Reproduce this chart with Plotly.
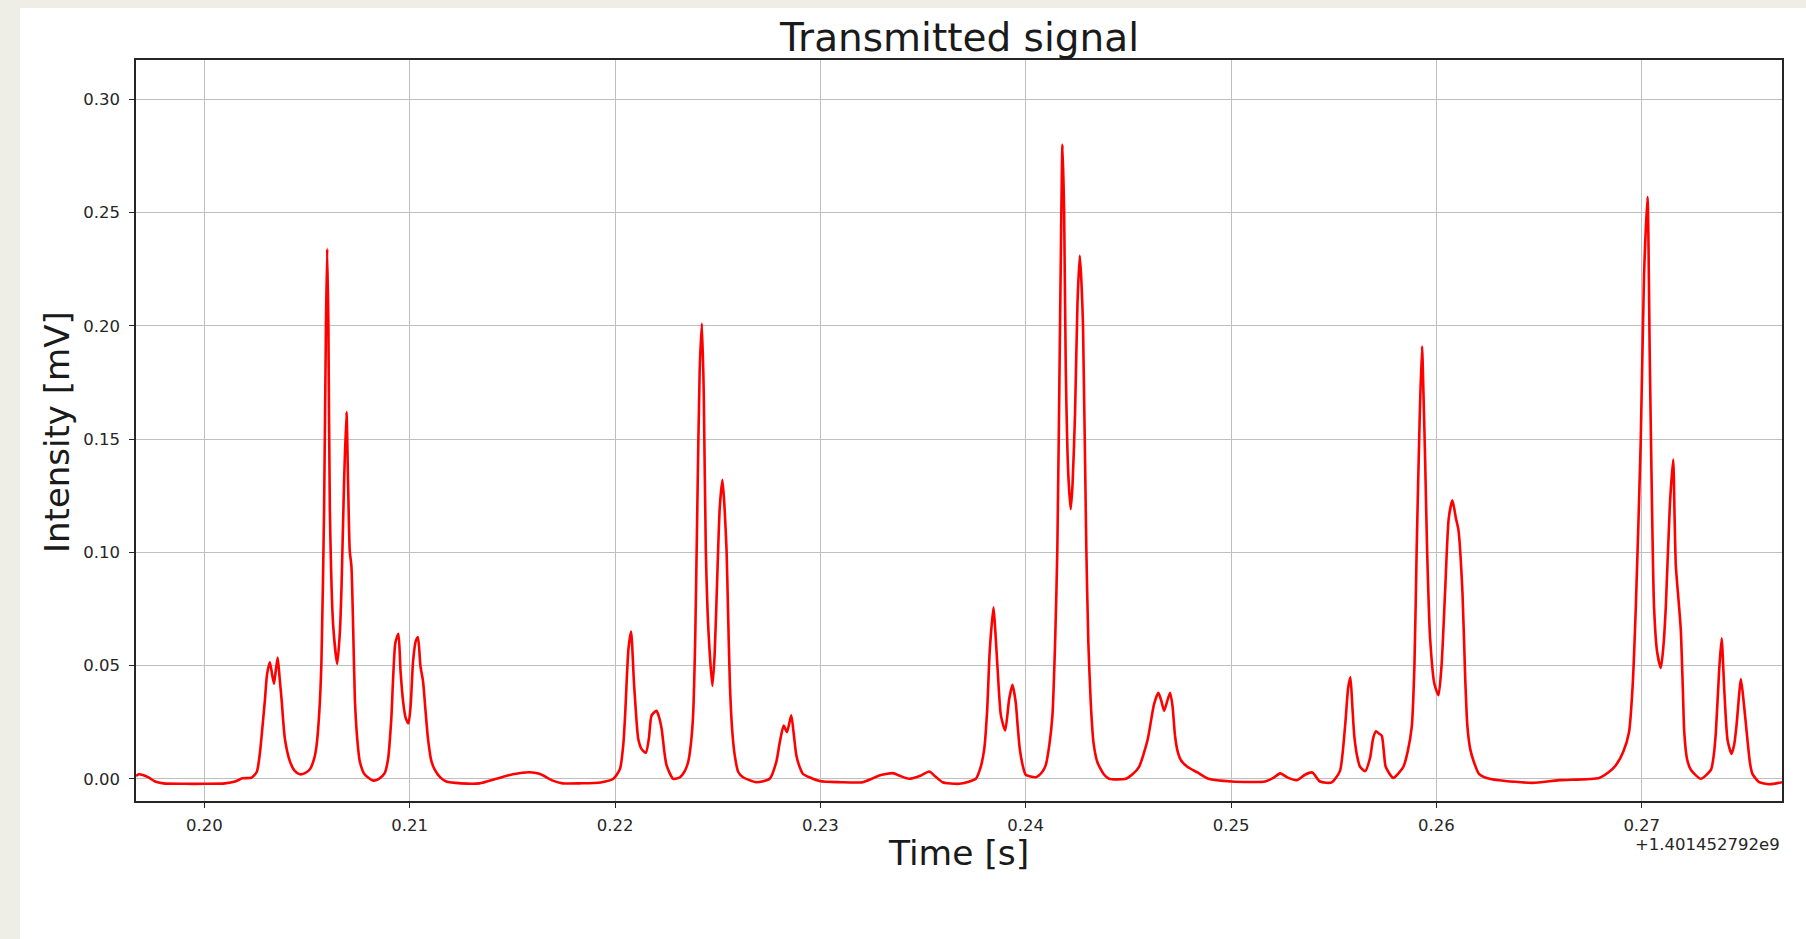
import plotly.graph_objects as go

# ---- data (time relative to offset 1.401452792e9 s, intensity in mV) ----
time_rel = [
    0.19667, 0.19680, 0.19700, 0.19730, 0.19760, 0.19800, 0.19900, 0.20000, 0.20100, 0.20150,
    0.20185, 0.20230, 0.20255, 0.20270, 0.20285, 0.20295, 0.20305, 0.20319, 0.20330, 0.20339,
    0.20348, 0.20357, 0.20366, 0.20376, 0.20392, 0.20417, 0.20440, 0.20465, 0.20490, 0.20514,
    0.20535, 0.20546, 0.20560, 0.20570, 0.20583, 0.20592, 0.20598, 0.20604, 0.20611, 0.20627,
    0.20647, 0.20660, 0.20668, 0.20680, 0.20692, 0.20700, 0.20708, 0.20716, 0.20725, 0.20733,
    0.20745, 0.20757, 0.20780, 0.20822, 0.20850, 0.20878, 0.20895, 0.20910, 0.20930, 0.20945,
    0.20955, 0.20968, 0.20980, 0.20994, 0.21005, 0.21016, 0.21030, 0.21040, 0.21052, 0.21065,
    0.21077, 0.21089, 0.21105, 0.21121, 0.21150, 0.21178, 0.21250, 0.21340, 0.21421, 0.21502,
    0.21583, 0.21632, 0.21697, 0.21745, 0.21830, 0.21930, 0.21992, 0.22024, 0.22040, 0.22049,
    0.22065, 0.22078, 0.22092, 0.22105, 0.22113, 0.22130, 0.22150, 0.22165, 0.22178, 0.22202,
    0.22215, 0.22227, 0.22240, 0.22251, 0.22283, 0.22316, 0.22340, 0.22356, 0.22370, 0.22380,
    0.22390, 0.22400, 0.22412, 0.22423, 0.22432, 0.22442, 0.22455, 0.22474, 0.22485, 0.22497,
    0.22510, 0.22523, 0.22533, 0.22543, 0.22550, 0.22559, 0.22570, 0.22583, 0.22600, 0.22623,
    0.22688, 0.22753, 0.22785, 0.22802, 0.22821, 0.22837, 0.22858, 0.22870, 0.22883, 0.22900,
    0.22915, 0.22996, 0.23100, 0.23206, 0.23250, 0.23287, 0.23352, 0.23390, 0.23433, 0.23490,
    0.23530, 0.23560, 0.23595, 0.23676, 0.23757, 0.23780, 0.23798, 0.23812, 0.23825, 0.23843,
    0.23852, 0.23862, 0.23879, 0.23900, 0.23919, 0.23935, 0.23951, 0.23961, 0.23971, 0.23985,
    0.24000, 0.24049, 0.24080, 0.24097, 0.24115, 0.24130, 0.24143, 0.24154, 0.24167, 0.24179,
    0.24187, 0.24195, 0.24207, 0.24219, 0.24228, 0.24240, 0.24252, 0.24263, 0.24271, 0.24279,
    0.24295, 0.24305, 0.24317, 0.24330, 0.24349, 0.24380, 0.24406, 0.24487, 0.24520, 0.24552,
    0.24593, 0.24625, 0.24646, 0.24660, 0.24674, 0.24688, 0.24703, 0.24715, 0.24727, 0.24740,
    0.24755, 0.24787, 0.24836, 0.24890, 0.25003, 0.25166, 0.25206, 0.25239, 0.25279, 0.25320,
    0.25360, 0.25396, 0.25433, 0.25490, 0.25530, 0.25555, 0.25570, 0.25581, 0.25590, 0.25600,
    0.25614, 0.25628, 0.25653, 0.25677, 0.25692, 0.25706, 0.25720, 0.25734, 0.25745, 0.25753,
    0.25790, 0.25839, 0.25860, 0.25880, 0.25893, 0.25904, 0.25919, 0.25930, 0.25937, 0.25945,
    0.25955, 0.25969, 0.25990, 0.26010, 0.26025, 0.26042, 0.26060, 0.26078, 0.26095, 0.26107,
    0.26127, 0.26140, 0.26151, 0.26165, 0.26183, 0.26207, 0.26240, 0.26304, 0.26467, 0.26597,
    0.26792, 0.26840, 0.26873, 0.26910, 0.26938, 0.26955, 0.26971, 0.26995, 0.27011, 0.27028,
    0.27039, 0.27050, 0.27060, 0.27075, 0.27093, 0.27105, 0.27117, 0.27137, 0.27153, 0.27160,
    0.27166, 0.27179, 0.27190, 0.27200, 0.27207, 0.27220, 0.27239, 0.27288, 0.27337, 0.27350,
    0.27361, 0.27377, 0.27389, 0.27402, 0.27418, 0.27437, 0.27450, 0.27462, 0.27483, 0.27499,
    0.27515, 0.27527, 0.27539, 0.27572, 0.27621, 0.27683,
]

intensity = [
    0.0012, 0.0020, 0.0017, 0.0005, -0.0012, -0.0020, -0.0022, -0.0022, -0.0020, -0.0012,
    0.0002, 0.0005, 0.0030, 0.0110, 0.0250, 0.0350, 0.0460, 0.0515, 0.0460, 0.0420,
    0.0480, 0.0535, 0.0450, 0.0350, 0.0177, 0.0076, 0.0035, 0.0020, 0.0025, 0.0042,
    0.0090, 0.0144, 0.0300, 0.0515, 0.1190, 0.2000, 0.2340, 0.2000, 0.1190, 0.0680,
    0.0507, 0.0650, 0.0850, 0.1300, 0.1620, 0.1300, 0.1005, 0.0940, 0.0650, 0.0350,
    0.0170, 0.0076, 0.0020, -0.0008, 0.0000, 0.0025, 0.0090, 0.0260, 0.0600, 0.0640,
    0.0480, 0.0340, 0.0270, 0.0245, 0.0330, 0.0515, 0.0610, 0.0625, 0.0500, 0.0430,
    0.0300, 0.0177, 0.0080, 0.0042, 0.0005, -0.0012, -0.0020, -0.0020, 0.0000, 0.0020,
    0.0029, 0.0022, -0.0008, -0.0020, -0.0020, -0.0016, 0.0000, 0.0044, 0.0150, 0.0280,
    0.0570, 0.0650, 0.0425, 0.0250, 0.0176, 0.0130, 0.0115, 0.0180, 0.0280, 0.0300,
    0.0270, 0.0220, 0.0120, 0.0059, 0.0000, 0.0007, 0.0035, 0.0074, 0.0160, 0.0280,
    0.0600, 0.1160, 0.1800, 0.2010, 0.1700, 0.1010, 0.0650, 0.0410, 0.0550, 0.0870,
    0.1200, 0.1320, 0.1200, 0.1010, 0.0750, 0.0426, 0.0220, 0.0103, 0.0030, 0.0007,
    -0.0015, 0.0000, 0.0074, 0.0160, 0.0235, 0.0206, 0.0280, 0.0200, 0.0103, 0.0050,
    0.0022, -0.0010, -0.0015, -0.0015, 0.0000, 0.0015, 0.0025, 0.0012, 0.0000, 0.0015,
    0.0032, 0.0010, -0.0015, -0.0022, 0.0000, 0.0050, 0.0132, 0.0300, 0.0570, 0.0757,
    0.0650, 0.0500, 0.0280, 0.0213, 0.0350, 0.0415, 0.0340, 0.0230, 0.0132, 0.0060,
    0.0018, 0.0007, 0.0030, 0.0059, 0.0150, 0.0280, 0.0600, 0.1020, 0.2000, 0.2800,
    0.2500, 0.1810, 0.1350, 0.1190, 0.1300, 0.1610, 0.2100, 0.2310, 0.2200, 0.2000,
    0.1020, 0.0600, 0.0330, 0.0160, 0.0073, 0.0020, 0.0000, 0.0000, 0.0020, 0.0053,
    0.0170, 0.0330, 0.0380, 0.0345, 0.0300, 0.0340, 0.0380, 0.0320, 0.0190, 0.0120,
    0.0083, 0.0053, 0.0028, 0.0000, -0.0012, -0.0012, 0.0004, 0.0024, 0.0004, -0.0006,
    0.0018, 0.0028, -0.0012, -0.0016, 0.0034, 0.0230, 0.0400, 0.0448, 0.0330, 0.0190,
    0.0100, 0.0053, 0.0034, 0.0093, 0.0180, 0.0210, 0.0200, 0.0190, 0.0110, 0.0053,
    0.0004, 0.0053, 0.0120, 0.0230, 0.0500, 0.1020, 0.1610, 0.1910, 0.1700, 0.1410,
    0.1000, 0.0625, 0.0420, 0.0369, 0.0500, 0.0820, 0.1150, 0.1230, 0.1150, 0.1100,
    0.0820, 0.0450, 0.0230, 0.0130, 0.0073, 0.0022, 0.0005, -0.0006, -0.0018, -0.0006,
    0.0004, 0.0030, 0.0059, 0.0120, 0.0206, 0.0400, 0.0756, 0.1490, 0.2220, 0.2570,
    0.1860, 0.1200, 0.0756, 0.0560, 0.0490, 0.0580, 0.0756, 0.1210, 0.1410, 0.1150,
    0.0940, 0.0790, 0.0660, 0.0400, 0.0206, 0.0090, 0.0040, 0.0000, 0.0040, 0.0100,
    0.0206, 0.0480, 0.0620, 0.0390, 0.0170, 0.0110, 0.0150, 0.0240, 0.0440, 0.0316,
    0.0170, 0.0070, 0.0022, -0.0015, -0.0024, -0.0015,
]

x_ticks = [0.20, 0.21, 0.22, 0.23, 0.24, 0.25, 0.26, 0.27]
x_tick_labels = ["0.20", "0.21", "0.22", "0.23", "0.24", "0.25", "0.26", "0.27"]
y_ticks = [0.00, 0.05, 0.10, 0.15, 0.20, 0.25, 0.30]
y_tick_labels = ["0.00", "0.05", "0.10", "0.15", "0.20", "0.25", "0.30"]
x_range = [0.19667, 0.27683]
y_range = [-0.0098, 0.3174]
title_text = "Transmitted signal"
x_title = "Time [s]"
y_title = "Intensity [mV]"
offset_text = "+1.401452792e9"

# ---- layout geometry (pixels) ----
W, H = 1806, 939
ML, MR, MT, MB = 136, 24, 60, 138
PW = W - ML - MR
PH = H - MT - MB

def px_x(p):
    return (p - ML) / PW

def px_y(p):
    return (H - MB - p) / PH

FONT = "DejaVu Sans, Arial, sans-serif"
TXT = "#1a1a1a"
TICK_TXT = "#262626"

fig = go.Figure()
fig.add_trace(go.Scatter(
    x=time_rel, y=intensity, mode="lines",
    line=dict(color="#ff0000", width=2.6, shape="spline", smoothing=0.6),
    hoverinfo="skip", showlegend=False,
))

axis_common = dict(
    showgrid=True, gridcolor="#bfbfbf", gridwidth=1.2,
    showline=True, mirror=True, linecolor="#262626", linewidth=1.5,
    ticks="outside", ticklen=5, tickwidth=1.2, tickcolor="#262626",
    zeroline=False,
    tickfont=dict(family=FONT, size=16.5, color=TICK_TXT),
)

fig.update_layout(
    width=W, height=H,
    margin=dict(l=ML, r=MR, t=MT, b=MB, pad=0),
    paper_bgcolor="#eeeee7",
    plot_bgcolor="#ffffff",
    xaxis=dict(range=x_range, tickvals=x_ticks, ticktext=x_tick_labels,
               ticklabelstandoff=3, **axis_common),
    yaxis=dict(range=y_range, tickvals=y_ticks, ticktext=y_tick_labels,
               ticklabelstandoff=6, **axis_common),
    shapes=[dict(
        type="rect", xref="paper", yref="paper", layer="below",
        x0=px_x(20), x1=px_x(W + 2), y0=px_y(H + 2), y1=px_y(8),
        fillcolor="#ffffff", line=dict(width=0),
    )],
    annotations=[
        dict(text=title_text, xref="paper", yref="paper", x=px_x(959), y=px_y(38),
             xanchor="center", yanchor="middle", showarrow=False,
             font=dict(family=FONT, size=39, color=TXT)),
        dict(text=x_title, xref="paper", yref="paper", x=px_x(958), y=px_y(853),
             xanchor="center", yanchor="middle", showarrow=False,
             font=dict(family=FONT, size=34.5, color=TXT)),
        dict(text=y_title, xref="paper", yref="paper", x=px_x(57), y=px_y(432),
             xanchor="center", yanchor="middle", showarrow=False, textangle=-90,
             font=dict(family=FONT, size=34, color=TXT)),
        dict(text=offset_text, xref="paper", yref="paper", x=px_x(1782), y=px_y(845),
             xanchor="right", yanchor="middle", showarrow=False,
             font=dict(family=FONT, size=16.5, color=TICK_TXT)),
    ],
)

fig.write_html("out.html", config={"displayModeBar": False, "responsive": False})
